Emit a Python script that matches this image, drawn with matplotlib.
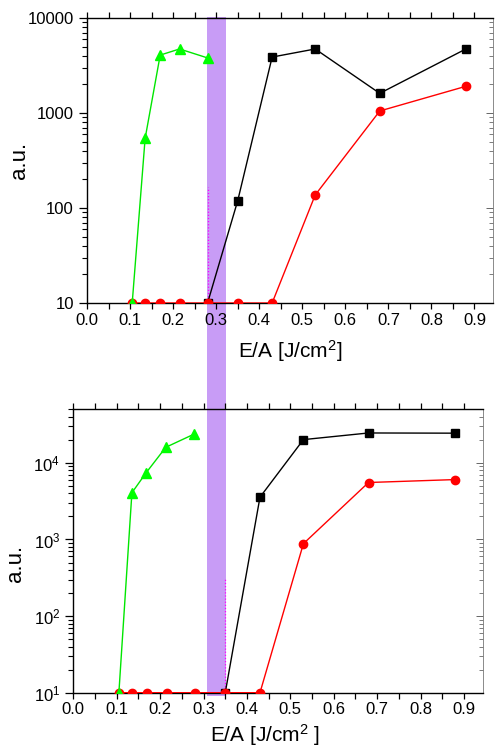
import math
import matplotlib
matplotlib.use("Agg")
import matplotlib.pyplot as plt
from matplotlib.patches import Rectangle
from matplotlib.ticker import FixedLocator, FuncFormatter, LogLocator, MultipleLocator, NullFormatter

plt.rcParams['font.family'] = ['Liberation Sans', 'DejaVu Sans']
plt.rcParams['mathtext.fontset'] = 'custom'
plt.rcParams['mathtext.rm'] = 'Liberation Sans'
plt.rcParams['mathtext.it'] = 'Liberation Sans:italic'
plt.rcParams['mathtext.default'] = 'regular'

# ---- data (top panel) ----
green_x_top = [0.105, 0.135, 0.17, 0.215, 0.28]
green_y_top = [10, 540, 4070, 4720, 3800]
black_x_top = [0.28, 0.35, 0.43, 0.53, 0.68, 0.88]
black_y_top = [10, 119, 3880, 4720, 1610, 4720]
red_x_top = [0.105, 0.135, 0.17, 0.215, 0.28, 0.35, 0.43, 0.53, 0.68, 0.88]
red_y_top = [10, 10, 10, 10, 10, 10, 10, 137, 1050, 1910]
thresh_x_top = 0.28
thresh_y_top = [10, 165]
yticks_top = [10, 100, 1000, 10000]

# ---- data (bottom panel) ----
green_x_bot = [0.105, 0.135, 0.167, 0.213, 0.277]
green_y_bot = [10, 4070, 7330, 15960, 23550]
black_x_bot = [0.35, 0.43, 0.53, 0.68, 0.88]
black_y_bot = [10, 3565, 20100, 24550, 24400]
red_x_bot = [0.105, 0.135, 0.17, 0.215, 0.28, 0.35, 0.43, 0.53, 0.68, 0.88]
red_y_bot = [10, 10, 10, 10, 10, 10, 10, 881, 5540, 6050]
thresh_x_bot = 0.35
thresh_y_bot = [10, 310]
yticks_bot = [10, 100, 1000, 10000]

xticks = [0.0, 0.1, 0.2, 0.3, 0.4, 0.5, 0.6, 0.7, 0.8, 0.9]

fig = plt.figure(figsize=(4.95, 7.49), dpi=100)
W, H = 495, 749

def make_ax(left, right, top, bottom):
    return fig.add_axes([left / W, 1 - bottom / H, (right - left) / W, (bottom - top) / H])

ax1 = make_ax(87, 493, 18, 303)
ax2 = make_ax(73.3, 482.7, 409.3, 692.7)

# shaded band across both panels (figure coords), drawn beneath everything
band = Rectangle((207 / W, 1 - 696 / H), (226 - 207) / W, (696 - 17) / H,
                 transform=fig.transFigure, facecolor='#c89cf6', edgecolor='none', zorder=-1)
fig.add_artist(band)

def style(ax, ylim, yticks, fmt):
    ax.set_facecolor('none')
    ax.set_yscale('log')
    ax.set_xlim(0, 0.943)
    ax.set_ylim(*ylim)
    ax.xaxis.set_major_locator(FixedLocator(xticks))
    ax.xaxis.set_minor_locator(MultipleLocator(0.05))
    ax.xaxis.set_major_formatter(FuncFormatter(lambda v, p: f"{v:.1f}"))
    ax.yaxis.set_major_locator(FixedLocator(yticks))
    ax.yaxis.set_minor_locator(LogLocator(base=10, subs=range(2, 10)))
    ax.yaxis.set_minor_formatter(NullFormatter())
    ax.yaxis.set_major_formatter(fmt)
    ax.tick_params(axis='x', which='both', direction='out', top=True, bottom=True,
                   length=4, width=0.9, labelsize=12, pad=3)
    ax.tick_params(axis='y', which='major', direction='out', left=True, right=False,
                   length=6, width=0.9, labelsize=12)
    ax.tick_params(axis='y', which='minor', direction='out', left=True, right=False,
                   length=3.5, width=0.8)
    for s in ['left', 'bottom', 'top']:
        ax.spines[s].set_linewidth(1.0)
    ax.spines['right'].set_linewidth(0.6)
    ax.spines['right'].set_color('#777777')
    sec = ax.secondary_yaxis('right')
    sec.yaxis.set_major_locator(FixedLocator(yticks))
    sec.yaxis.set_minor_locator(LogLocator(base=10, subs=range(2, 10)))
    sec.tick_params(axis='y', which='both', direction='in', labelright=False, color='#666666')
    sec.tick_params(axis='y', which='major', length=5, width=0.7)
    sec.tick_params(axis='y', which='minor', length=3, width=0.6)
    sec.spines['right'].set_visible(False)

style(ax1, (10, 10000), yticks_top, FuncFormatter(lambda v, p: f"{int(round(v))}"))
style(ax2, (10, 50000), yticks_bot,
      FuncFormatter(lambda v, p: r"$10^{%d}$" % int(round(math.log10(v)))))

def plot_panel(ax, gx, gy, bx, by, rx, ry, tx, ty):
    ax.plot([tx, tx], ty, color='#ff00ff', lw=0.9, ls=(0, (1, 1.5)), zorder=2)
    ax.plot(bx, by, color='black', lw=1.0, marker='s', ms=5.5, zorder=3)
    ax.plot(rx, ry, color='#ff0000', lw=1.0, marker='o', ms=6, zorder=3.5)
    ax.plot(gx, gy, color='#00e600', lw=1.0, marker='^', ms=6.5, mfc='#00ff00', mec='#00ff00', zorder=4)

plot_panel(ax1, green_x_top, green_y_top, black_x_top, black_y_top, red_x_top, red_y_top,
           thresh_x_top, thresh_y_top)
plot_panel(ax2, green_x_bot, green_y_bot, black_x_bot, black_y_bot, red_x_bot, red_y_bot,
           thresh_x_bot, thresh_y_bot)

fig.text(290 / W, 1 - 351 / H, r"E/A [J/cm$^2$]", ha='center', va='center', fontsize=15)
fig.text(265 / W, 1 - 735 / H, r"E/A [J/cm$^2$ ]", ha='center', va='center', fontsize=15)
fig.text(20 / W, 1 - 160 / H, "a.u.", rotation=90, ha='center', va='center', fontsize=16)
fig.text(15 / W, 1 - 563 / H, "a.u.", rotation=90, ha='center', va='center', fontsize=16)

fig.savefig("out.png", dpi=100)
